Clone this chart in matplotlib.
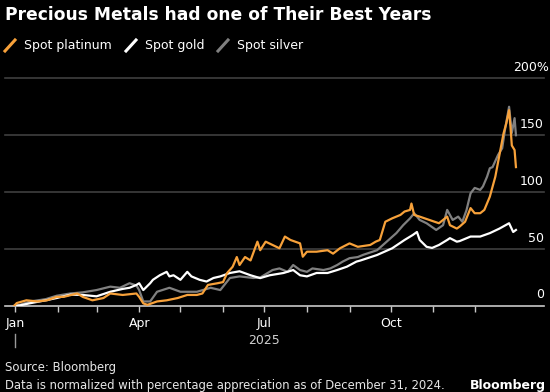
import matplotlib
matplotlib.use("Agg")
import matplotlib.pyplot as plt
import matplotlib.dates as mdates
import matplotlib.transforms as mtransforms
from matplotlib.lines import Line2D
import pandas as pd

# Percent change vs Dec 31, 2024
plat_dates = ["2024-12-31", "2025-01-02", "2025-01-09", "2025-01-17", "2025-01-24", "2025-01-31",
              "2025-02-05", "2025-02-15", "2025-02-19", "2025-02-26", "2025-03-06", "2025-03-11",
              "2025-03-20", "2025-03-30", "2025-04-01", "2025-04-04", "2025-04-07", "2025-04-14",
              "2025-04-21", "2025-04-29", "2025-05-06", "2025-05-13", "2025-05-17", "2025-05-21",
              "2025-05-28", "2025-06-01", "2025-06-04", "2025-06-08", "2025-06-11", "2025-06-13",
              "2025-06-17", "2025-06-21", "2025-06-26", "2025-06-28", "2025-07-02", "2025-07-07",
              "2025-07-12", "2025-07-16", "2025-07-20", "2025-07-27", "2025-07-29", "2025-08-01",
              "2025-08-08", "2025-08-16", "2025-08-20", "2025-08-25", "2025-09-01", "2025-09-07",
              "2025-09-16", "2025-09-20", "2025-09-23", "2025-09-27", "2025-10-02", "2025-10-08",
              "2025-10-11", "2025-10-15", "2025-10-16", "2025-10-18", "2025-10-22", "2025-10-29",
              "2025-11-05", "2025-11-11", "2025-11-13", "2025-11-18", "2025-11-20", "2025-11-24",
              "2025-11-28", "2025-12-01", "2025-12-05", "2025-12-08", "2025-12-12", "2025-12-16",
              "2025-12-19", "2025-12-22", "2025-12-24", "2025-12-26", "2025-12-27", "2025-12-28",
              "2025-12-30", "2025-12-31"]
plat_pct = [0, 2.6, 5, 4, 5, 8,
            8, 11, 8, 5, 7, 11,
            9.7, 11, 8, 2.3, 1, 4,
            5, 7, 9.7, 9.7, 11, 18.5,
            20, 21, 29, 34.5, 43, 36,
            43, 40, 56.5, 49, 56.5, 53.6,
            50.7, 61, 58, 55, 43.3, 47.7,
            47.7, 49, 46, 50.7, 55, 52,
            53.6, 56.5, 58, 74, 77, 80,
            83, 84.4, 90, 80, 78.5, 75.6,
            72.7, 78.5, 71, 68, 69.7, 74,
            86, 81.5, 81.5, 84.4, 96, 113.6,
            132.7, 151.7, 160.5, 172, 157.6, 141,
            137, 122]

gold_dates = ["2024-12-31", "2025-01-04", "2025-01-12", "2025-01-23", "2025-01-31", "2025-02-10",
              "2025-02-19", "2025-03-01", "2025-03-11", "2025-03-20", "2025-03-25", "2025-03-30",
              "2025-04-01", "2025-04-04", "2025-04-09", "2025-04-11", "2025-04-16", "2025-04-21",
              "2025-04-23", "2025-04-26", "2025-05-01", "2025-05-06", "2025-05-09", "2025-05-15",
              "2025-05-20", "2025-05-25", "2025-05-30", "2025-06-06", "2025-06-13", "2025-06-21",
              "2025-06-28", "2025-07-05", "2025-07-15", "2025-07-22", "2025-07-27", "2025-08-01",
              "2025-08-08", "2025-08-16", "2025-08-23", "2025-08-30", "2025-09-06", "2025-09-09",
              "2025-09-21", "2025-10-02", "2025-10-11", "2025-10-17", "2025-10-20", "2025-10-22",
              "2025-10-27", "2025-10-31", "2025-11-05", "2025-11-11", "2025-11-13", "2025-11-18",
              "2025-11-20", "2025-11-28", "2025-12-05", "2025-12-12", "2025-12-19", "2025-12-26",
              "2025-12-29", "2025-12-31"]
gold_pct = [0, 0.5, 2.5, 5, 7, 10,
            9.7, 8.5, 12.5, 15, 16, 18.5,
            20, 14, 20, 23, 27, 30,
            26, 27, 23, 30, 26, 23,
            21.5, 24.6, 26, 29, 30.5, 27,
            24.5, 27, 29, 31.6, 27, 26,
            29, 29, 31.6, 34.5, 39, 40,
            44.8, 50.7, 58, 62.4, 65, 58,
            52, 51, 53.6, 58, 59.6, 56.5,
            57, 61, 61, 64, 68, 72.7,
            65, 66.8]

silver_dates = ["2024-12-31", "2025-01-04", "2025-01-12", "2025-01-23", "2025-01-31", "2025-02-10",
                "2025-02-19", "2025-03-01", "2025-03-11", "2025-03-18", "2025-03-25", "2025-03-30",
                "2025-04-01", "2025-04-04", "2025-04-09", "2025-04-14", "2025-04-23", "2025-05-01",
                "2025-05-13", "2025-05-23", "2025-05-30", "2025-06-06", "2025-06-13", "2025-06-23",
                "2025-06-28", "2025-07-07", "2025-07-12", "2025-07-18", "2025-07-22", "2025-07-27",
                "2025-08-01", "2025-08-05", "2025-08-13", "2025-08-18", "2025-08-23", "2025-08-27",
                "2025-09-01", "2025-09-07", "2025-09-11", "2025-09-21", "2025-09-28", "2025-10-05",
                "2025-10-10", "2025-10-15", "2025-10-18", "2025-10-22", "2025-10-27", "2025-11-03",
                "2025-11-08", "2025-11-11", "2025-11-15", "2025-11-19", "2025-11-22", "2025-11-25",
                "2025-11-28", "2025-12-01", "2025-12-05", "2025-12-07", "2025-12-10", "2025-12-12",
                "2025-12-14", "2025-12-18", "2025-12-21", "2025-12-23", "2025-12-26", "2025-12-28",
                "2025-12-30", "2025-12-31"]
silver_pct = [0, 1, 4, 6, 9, 11,
              12, 14, 17, 16, 20, 18,
              14, 4, 4, 12.5, 16, 12.5,
              12.5, 16, 14, 24.6, 26, 24.6,
              25, 31.6, 33, 30, 36, 31.6,
              30, 33, 31.6, 33, 36, 39,
              42, 43, 45, 49, 56.5, 64,
              71, 77, 81.5, 75.6, 72.7, 66.8,
              71, 84.4, 75.6, 78.5, 74, 84,
              99, 103.7, 102, 105, 113.6, 121,
              122, 132.7, 138.6, 154.7, 175, 152,
              165, 150]

y_ticks = [0, 50, 100, 150, 200]
month_labels = ["Jan", "", "", "Apr", "", "", "Jul", "", "", "Oct", "", ""]

ORANGE = "#f7a13a"
GOLD_C = "#ffffff"
SILVER = "#808080"
W, H = 550, 392


def fx(px):
    return px / W


def fy(py):
    return 1 - py / H


fig = plt.figure(figsize=(W / 100, H / 100), dpi=100, facecolor="black")
ax = fig.add_axes([fx(5), fy(306), fx(544) - fx(5), (306 - 78.3) / H])
ax.set_facecolor("black")

# gridlines
for v in y_ticks[1:]:
    ax.axhline(v, color="#3f3f3f", lw=1.2, zorder=1, clip_on=False)

ax.plot(pd.to_datetime(silver_dates), silver_pct, color=SILVER, lw=1.6, zorder=3)
ax.plot(pd.to_datetime(gold_dates), gold_pct, color=GOLD_C, lw=1.6, zorder=4)
ax.plot(pd.to_datetime(plat_dates), plat_pct, color=ORANGE, lw=1.6, zorder=5)

jan1 = mdates.date2num(pd.Timestamp("2025-01-01"))
ax.set_xlim(jan1 - 7.56, jan1 + 384.4)
ax.set_ylim(0, 200)

for s in ["top", "right", "left"]:
    ax.spines[s].set_visible(False)
ax.spines["bottom"].set_color("#c8c8c8")
ax.spines["bottom"].set_linewidth(1.2)

months = pd.date_range("2025-01-01", periods=12, freq="MS")
ax.set_xticks(mdates.date2num(months))
ax.set_xticklabels(month_labels)
ax.tick_params(axis="x", direction="out", length=4, width=1, color="#c8c8c8",
               labelcolor="white", labelsize=9, pad=4)
ax.set_yticks([])

# y labels sit above the gridlines on the right
trans = mtransforms.blended_transform_factory(ax.transAxes, ax.transData)
for v in y_ticks[:-1]:
    ax.annotate(str(v), xy=(1, v), xycoords=trans, xytext=(0, 11), textcoords="offset pixels",
                ha="right", va="center", color="white", fontsize=9)
ax.annotate(f"{y_ticks[-1]}%", xy=(1, y_ticks[-1]), xycoords=trans, xytext=(5, 11),
            textcoords="offset pixels", ha="right", va="center", color="white", fontsize=9,
            annotation_clip=False)

# year label and marker
xtrans = mtransforms.blended_transform_factory(ax.transData, ax.transAxes)
ax.plot([jan1, jan1], [(306 - 334) / 227.7, (306 - 347) / 227.7], transform=xtrans,
        color="#9a9a9a", lw=1, clip_on=False)
ax.text(mdates.date2num(pd.Timestamp("2025-07-01")), (306 - 340) / 227.7, "2025",
        transform=xtrans, ha="center", va="center", color="#d0d0d0", fontsize=9)

fig.text(fx(5), fy(15), "Precious Metals had one of Their Best Years", color="white",
         fontsize=12.3, fontweight="bold", va="center")

legend_items = [("Spot platinum", ORANGE, 5), ("Spot gold", GOLD_C, 126), ("Spot silver", SILVER, 218)]
for label, col, x0 in legend_items:
    fig.add_artist(Line2D([fx(x0), fx(x0 + 10)], [fy(51), fy(40)], transform=fig.transFigure,
                          color=col, lw=2.2))
    fig.text(fx(x0 + 19), fy(45.6), label, color="white", fontsize=9, va="center")

fig.text(fx(5), fy(367.7), "Source: Bloomberg", color="#e6e6e6", fontsize=8.4, va="center")
fig.text(fx(5), fy(385), "Data is normalized with percentage appreciation as of December 31, 2024.",
         color="#e6e6e6", fontsize=8.4, va="center")
fig.text(fx(546), fy(385), "Bloomberg", color="white", fontsize=9, fontweight="bold",
         ha="right", va="center")

fig.savefig("out.png", dpi=100, facecolor="black")
